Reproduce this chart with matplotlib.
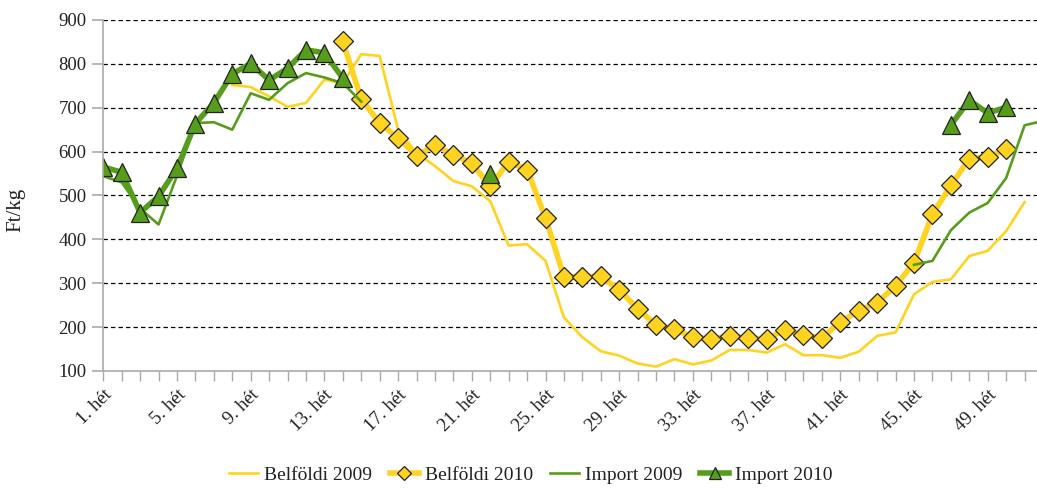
import numpy as np
import matplotlib
matplotlib.use("Agg")
import matplotlib.pyplot as plt

nan = np.nan

# --- data -----------------------------------------------------------------
weeks = np.arange(1, 53)
tick_weeks = list(range(1, 50, 4))
tick_labels = [f"{w}. hét" for w in tick_weeks]

# week 1 .. 52, NaN where the series has no value
belfoldi_2009 = [nan] * 7 + [
    752, 747, 726, 702, 711, 764, 756, 822, 818, 650,   # 8-17
    597, 567, 533, 521, 487, 386, 389, 351, 222, 177,   # 18-27
    145, 135, 117, 110, 127, 115, 124, 148, 148, 142,   # 28-37
    161, 136, 136, 130, 144, 180, 188, 275, 303, 309,   # 38-47
    362, 374, 419, 485,                                  # 48-51
] + [nan]

belfoldi_2010 = [nan] * 13 + [
    851, 720, 665, 631, 591, 614, 593, 573, 521, 577,   # 14-23
    559, 449, 315, 315, 316, 285, 242, 205, 195, 177,   # 24-33
    173, 180, 175, 173, 194, 182, 175, 212, 237, 256,   # 34-43
    294, 347, 457, 523, 584, 587, 606,                   # 44-50
] + [nan, nan]

import_2009 = [
    544, 530, 470, 434, 545, 665, 667, 650, 733, 718,   # 1-10
    756, 779, 769, 756, 714,                             # 11-15
] + [nan] * 29 + [
    342, 351, 421, 461, 483, 540, 660, 670,              # 45-52
]

import_2010 = [
    565, 553, 461, 498, 562, 664, 711, 777, 801, 763,   # 1-10
    790, 832, 825, 767,                                  # 11-14
] + [nan] * 7 + [550] + [nan] * 24 + [
    661, 717, 688, 701,                                  # 47-50
] + [nan, nan]

YELLOW = "#FFD320"
GREEN = "#579D1C"

plt.rcParams["font.family"] = ["Liberation Serif", "DejaVu Serif"]

fig = plt.figure(figsize=(10.37, 4.91), dpi=100)
ax = fig.add_axes([0.0996, 0.2444, 0.9062, 0.7149])

ax.plot(weeks, belfoldi_2009, color=YELLOW, lw=1.9, label="Belföldi 2009")
ax.plot(weeks, belfoldi_2010, color=YELLOW, lw=4.0, marker="D", ms=10,
        mfc=YELLOW, mec="#222222", mew=0.9, label="Belföldi 2010")
ax.plot(weeks, import_2009, color=GREEN, lw=1.9, label="Import 2009")
ax.plot(weeks, import_2010, color=GREEN, lw=4.0, marker="^", ms=12.5,
        mfc=GREEN, mec="#222222", mew=0.9, label="Import 2010")

ax.set_xlim(1, 52)
ax.set_ylim(100, 900)
ax.set_yticks(range(100, 901, 100))
ax.set_xticks(weeks, minor=True)
ax.set_xticks(tick_weeks)
ax.set_xticklabels(tick_labels, rotation=45, ha="right", rotation_mode="anchor")

for v in range(200, 901, 100):
    ax.axhline(v, color="black", lw=0.9, ls=(0, (3.5, 2.5)), zorder=0)

for side in ("top", "right"):
    ax.spines[side].set_visible(False)
for side in ("left", "bottom"):
    ax.spines[side].set_color("#AAAAAA")
    ax.spines[side].set_linewidth(1.2)

ax.tick_params(axis="y", length=8, width=1.2, color="#AAAAAA", labelsize=13.5,
               pad=4, labelcolor="#222222")
ax.tick_params(axis="x", which="both", direction="out", length=7, width=1.0,
               color="#AAAAAA", labelsize=13.5, pad=4, labelcolor="#222222")

ax.set_ylabel("Ft/kg", fontsize=15, color="#222222")
ax.yaxis.set_label_coords(-0.083, 0.46)

leg = fig.legend(loc="center", bbox_to_anchor=(0.512, 0.032), ncol=4,
                 frameon=False, fontsize=14, handlelength=1.5,
                 handletextpad=0.3, columnspacing=0.9, markerscale=0.7)
for t in leg.get_texts():
    t.set_color("#222222")

fig.savefig("out.png", dpi=100)
